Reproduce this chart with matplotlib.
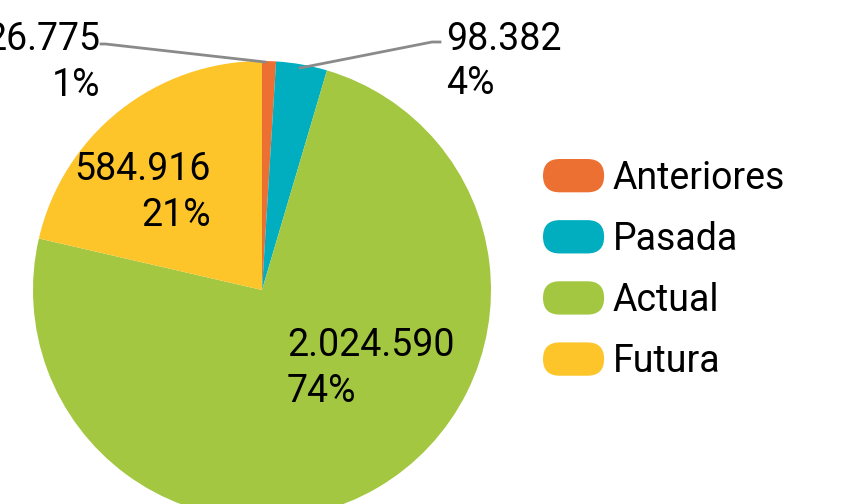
import matplotlib.pyplot as plt
from matplotlib.patches import FancyBboxPatch
from matplotlib.legend_handler import HandlerPatch

plt.rcParams['font.family'] = ['Roboto', 'DejaVu Sans']

# data
categories = ['Anteriores', 'Pasada', 'Actual', 'Futura']
values = [26775, 98382, 2024590, 584916]
value_labels = ['26.775', '98.382', '2.024.590', '584.916']
pct_labels = ['1%', '4%', '74%', '21%']
colors = ['#ED7033', '#00AEC0', '#A3C740', '#FDC52A']

W, H = 858, 504
fig = plt.figure(figsize=(W / 100, H / 100), dpi=100)
cx, cy, r = 262, 290, 229
ax = fig.add_axes([(cx - r) / W, (H - cy - r) / H, 2 * r / W, 2 * r / H])

wedges, _ = ax.pie(values, colors=colors, startangle=90, counterclock=False,
                   radius=1, wedgeprops=dict(linewidth=0))
ax.set_xlim(-1, 1)
ax.set_ylim(-1, 1)
ax.set_aspect('equal')
ax.axis('off')


def px(x, y):
    return (x - cx) / r, (cy - y) / r


fs = 27
lc = '#8a8a8a'
# outside labels with leader lines
x0, y0 = px(101, 44)
x1, y1 = px(265, 62)
ax.plot([x0, x0 + 0.02, x1], [y0, y0, y1], color=lc, lw=2, clip_on=False)
tx, ty = px(100, 40)
ax.text(tx, ty, value_labels[0], ha='right', va='center', fontsize=fs)
tx, ty = px(100, 85)
ax.text(tx, ty, pct_labels[0], ha='right', va='center', fontsize=fs)

x0, y0 = px(300, 68)
x1, y1 = px(432, 42)
x2, y2 = px(440, 42)
ax.plot([x0, x1, x2], [y0, y1, y2], color=lc, lw=2, clip_on=False)
tx, ty = px(446, 40)
ax.text(tx, ty, value_labels[1], ha='left', va='center', fontsize=fs)
tx, ty = px(446, 83)
ax.text(tx, ty, pct_labels[1], ha='left', va='center', fontsize=fs)

# inside labels
tx, ty = px(211, 170)
ax.text(tx, ty, value_labels[3], ha='right', va='center', fontsize=fs)
tx, ty = px(211, 216)
ax.text(tx, ty, pct_labels[3], ha='right', va='center', fontsize=fs)

tx, ty = px(287, 346)
ax.text(tx, ty, value_labels[2], ha='left', va='center', fontsize=fs)
tx, ty = px(287, 391)
ax.text(tx, ty, pct_labels[2], ha='left', va='center', fontsize=fs)


class PillHandler(HandlerPatch):
    def create_artists(self, legend, orig_handle, xdescent, ydescent,
                       width, height, fontsize, trans):
        p = FancyBboxPatch((-xdescent, -ydescent), width, height,
                           boxstyle='round,pad=0,rounding_size=%f' % (height / 2),
                           facecolor=orig_handle.get_facecolor(), edgecolor='none',
                           transform=trans)
        return [p]


handles = [plt.Rectangle((0, 0), 1, 1, facecolor=c) for c in colors]
fig.legend(handles, categories, loc='upper left', bbox_to_anchor=(543 / W, 1 - 159 / H),
           frameon=False, fontsize=fs, handlelength=1.63, handleheight=0.99,
           handletextpad=0.22, labelspacing=0.63, borderpad=0, borderaxespad=0,
           handler_map={plt.Rectangle: PillHandler()})

fig.savefig('out.png', dpi=100)
